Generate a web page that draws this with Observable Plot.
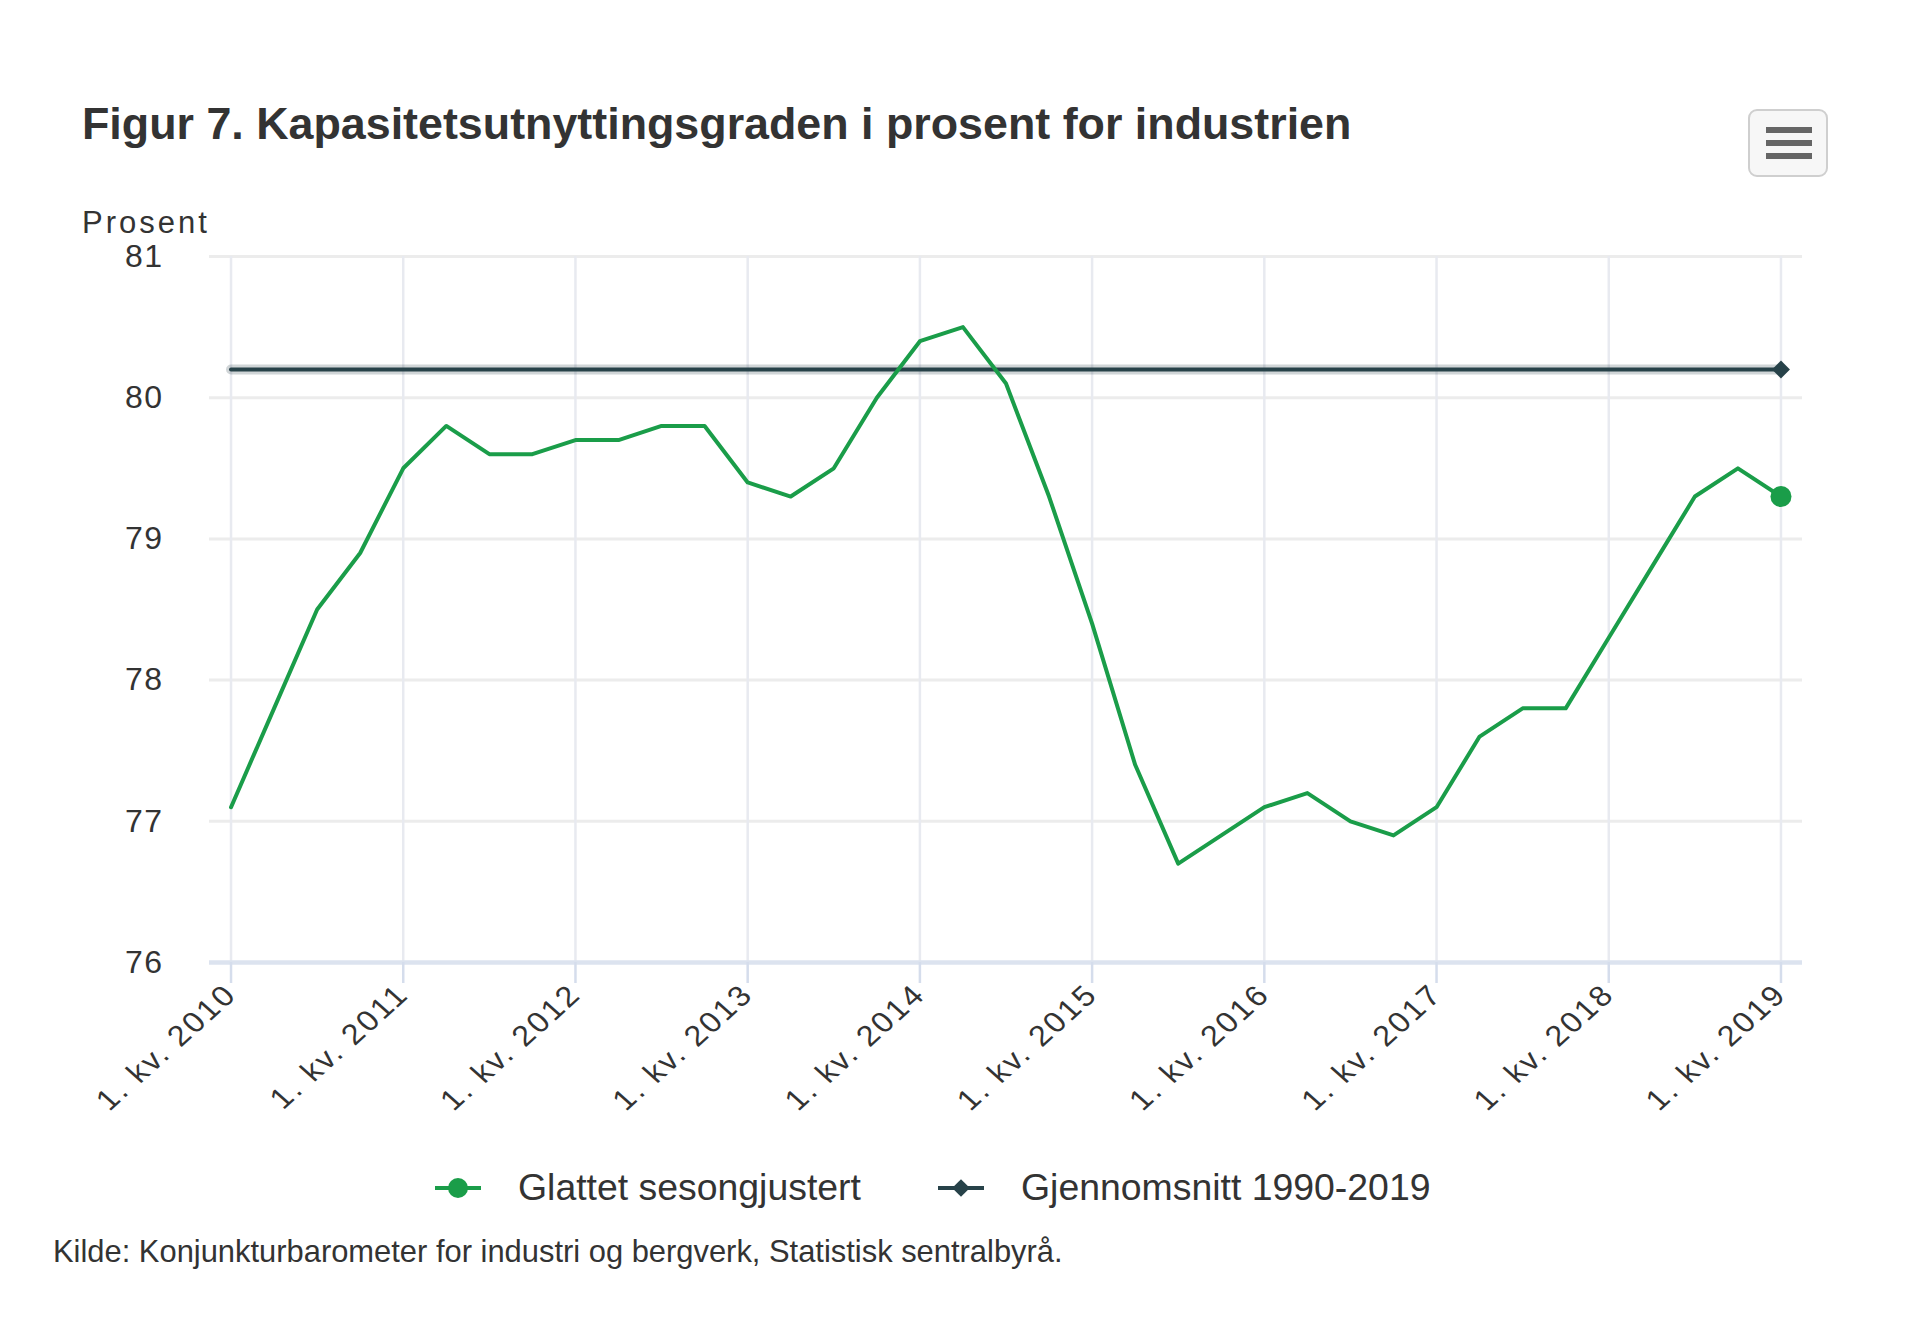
<!DOCTYPE html>
<html>
<head>
<meta charset="utf-8">
<script src="https://cdn.jsdelivr.net/npm/d3@7"></script>
<script src="https://cdn.jsdelivr.net/npm/@observablehq/plot@0.6"></script>
<style>
  html, body { margin: 0; padding: 0; background: #fff; }
  body { font-family: "Liberation Sans", Arial, sans-serif; color: #333; }
  #wrap { position: relative; width: 1920px; height: 1329px; overflow: hidden; }
  #chart { position: absolute; left: 0; top: 0; }
  #chart g[aria-label="x-axis tick label"] text { letter-spacing: 2.5px; }
  #chart g[aria-label="y-axis tick label"] text { letter-spacing: 1.5px; }
  .txt { position: absolute; white-space: nowrap; line-height: 1; }
  #title { left: 82px; top: 101px; font-size: 44.8px; font-weight: bold; color: #333; }
  #ylab { left: 82px; top: 207px; font-size: 31px; color: #333; letter-spacing: 3px; }
  #caption { left: 53px; top: 1237px; font-size: 30.9px; color: #333; }
  .leg { position: absolute; top: 1168px; display: flex; align-items: center; }
  .leg span { font-size: 37.4px; line-height: 1; color: #333; }
  .leg svg { margin-right: 37px; }
  #menu { position: absolute; left: 1748px; top: 109px; width: 76px; height: 64px;
          border: 2px solid #cfcfcf; border-radius: 9px; background: #f7f7f7; }
  #menu div { position: absolute; left: 16px; width: 46px; height: 6px; background: #666; }
</style>
</head>
<body>
<div id="wrap">
  <div id="chart"></div>
  <div class="txt" id="title">Figur 7. Kapasitetsutnyttingsgraden i prosent for industrien</div>
  <div class="txt" id="ylab">Prosent</div>
  <div id="menu"><div style="top:16px"></div><div style="top:29px"></div><div style="top:42px"></div></div>
  <div class="leg" id="leg1" style="left:435px"></div>
  <div class="leg" id="leg2" style="left:938px"></div>
  <div class="txt" id="caption">Kilde: Konjunkturbarometer for industri og bergverk, Statistisk sentralbyrå.</div>
</div>
<script>
// ---- data ----
const quarters = [
  "1. kv. 2010","2. kv. 2010","3. kv. 2010","4. kv. 2010",
  "1. kv. 2011","2. kv. 2011","3. kv. 2011","4. kv. 2011",
  "1. kv. 2012","2. kv. 2012","3. kv. 2012","4. kv. 2012",
  "1. kv. 2013","2. kv. 2013","3. kv. 2013","4. kv. 2013",
  "1. kv. 2014","2. kv. 2014","3. kv. 2014","4. kv. 2014",
  "1. kv. 2015","2. kv. 2015","3. kv. 2015","4. kv. 2015",
  "1. kv. 2016","2. kv. 2016","3. kv. 2016","4. kv. 2016",
  "1. kv. 2017","2. kv. 2017","3. kv. 2017","4. kv. 2017",
  "1. kv. 2018","2. kv. 2018","3. kv. 2018","4. kv. 2018",
  "1. kv. 2019"
];
const glattet = [
  77.1, 77.8, 78.5, 78.9,
  79.5, 79.8, 79.6, 79.6,
  79.7, 79.7, 79.8, 79.8,
  79.4, 79.3, 79.5, 80.0,
  80.4, 80.5, 80.1, 79.3,
  78.4, 77.4, 76.7, 76.9,
  77.1, 77.2, 77.0, 76.9,
  77.1, 77.6, 77.8, 77.8,
  78.3, 78.8, 79.3, 79.5,
  79.3
];
const snittVerdi = 80.2;
const yTicks = [76, 77, 78, 79, 80, 81];
const xTickYears = [2010, 2011, 2012, 2013, 2014, 2015, 2016, 2017, 2018, 2019];
const seriesNames = ["Glattet sesongjustert", "Gjennomsnitt 1990-2019"];

const green = "#1a9d49";
const dark = "#274249";

// quarter label -> fractional year
function qx(label) {
  const m = label.match(/^(\d)\. kv\. (\d{4})$/);
  return +m[2] + (+m[1] - 1) / 4;
}
const rows = quarters.map((q, i) => ({ x: qx(q), v: glattet[i], a: snittVerdi }));
const last = rows.slice(-1);

const chart = Plot.plot({
  width: 1920,
  height: 1329,
  marginTop: 256,
  marginBottom: 367,
  marginLeft: 209,
  marginRight: 118,
  x: { domain: [2010 - 0.125, 2019 + 0.125] },
  y: { domain: [76, 81] },
  style: { fontFamily: '"Liberation Sans", Arial, sans-serif', fontSize: "32px", color: "#333", background: "transparent" },
  marks: [
    Plot.gridY(yTicks, { stroke: "#ececec", strokeOpacity: 1, strokeWidth: 3 }),
    Plot.gridX(xTickYears, { stroke: "#e8eaf0", strokeOpacity: 1, strokeWidth: 2.5 }),
    Plot.ruleY([76], { stroke: "#dce3ef", strokeWidth: 4.5 }),
    Plot.axisY(yTicks, { tickSize: 0, tickPadding: 46, fontSize: 32, fill: "#333", label: null, tickFormat: d3.format("d") }),
    Plot.axisX(xTickYears, {
      tickFormat: d => `1. kv. ${d}`,
      tickRotate: -45,
      tickSize: 21,
      tickPadding: 6,
      stroke: "#d5ddec",
      strokeWidth: 2.5,
      fontSize: 33,
      fill: "#333",
      label: null
    }),
    Plot.lineY(rows, { x: "x", y: "a", stroke: dark, strokeWidth: 10, strokeOpacity: 0.22 }),
    Plot.lineY(rows, { x: "x", y: "a", stroke: dark, strokeWidth: 4 }),
    Plot.lineY(rows, { x: "x", y: "v", stroke: green, strokeWidth: 4, strokeLinejoin: "round" }),
    Plot.dot(last, { x: "x", y: "a", symbol: "diamond2", r: 8.1, fill: dark }),
    Plot.dot(last, { x: "x", y: "v", r: 10.5, fill: green })
  ]
});
document.getElementById("chart").appendChild(chart);

// the reference's rotated tick labels are slightly flattened; squeeze them around their anchor
chart.querySelectorAll('g[aria-label="x-axis tick label"] text').forEach(t => {
  const tr = t.getAttribute("transform");
  if (tr && tr.includes("rotate(")) t.setAttribute("transform", tr.replace("rotate(", "scale(0.98,0.88) rotate("));
});

// legend
function legendItem(el, color, symbol, name) {
  const ns = "http://www.w3.org/2000/svg";
  const svg = document.createElementNS(ns, "svg");
  svg.setAttribute("width", "46");
  svg.setAttribute("height", "40");
  const line = document.createElementNS(ns, "line");
  line.setAttribute("x1", "0"); line.setAttribute("x2", "46");
  line.setAttribute("y1", "20"); line.setAttribute("y2", "20");
  line.setAttribute("stroke", color); line.setAttribute("stroke-width", "4");
  svg.appendChild(line);
  const p = document.createElementNS(ns, "path");
  const sym = symbol === "circle" ? d3.symbolCircle : d3.symbolDiamond2;
  const size = symbol === "circle" ? Math.PI * 10 * 10 : 2 * 10 * 10;
  p.setAttribute("d", d3.symbol(sym, size)());
  p.setAttribute("transform", "translate(23,20)");
  p.setAttribute("fill", color);
  svg.appendChild(p);
  el.appendChild(svg);
  const s = document.createElement("span");
  s.textContent = name;
  el.appendChild(s);
}
legendItem(document.getElementById("leg1"), green, "circle", seriesNames[0]);
legendItem(document.getElementById("leg2"), dark, "diamond", seriesNames[1]);
</script>
</body>
</html>
